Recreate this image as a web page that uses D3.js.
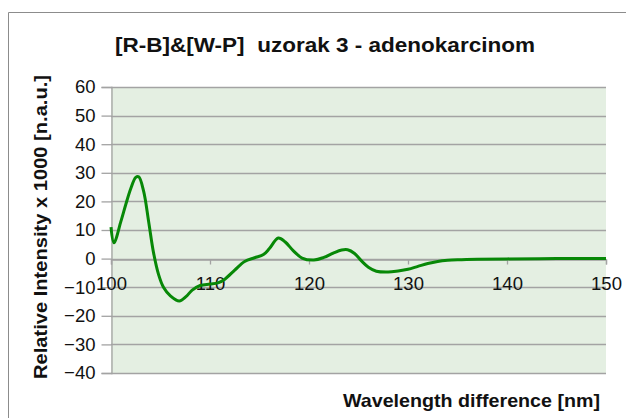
<!DOCTYPE html>
<html>
<head>
<meta charset="utf-8">
<script src="https://cdn.jsdelivr.net/npm/d3@7"></script>
<style>
  html, body { margin: 0; padding: 0; background: #ffffff; }
  svg { display: block; font-family: "Liberation Sans", Arial, sans-serif; }
</style>
</head>
<body>
<svg id="chart" width="626" height="418"></svg>
<script>
// Wavelength difference (nm) and relative intensity (x1000, n.a.u.)
const wavelength = [100, 100.3, 101, 101.5, 102, 102.5, 102.8, 103.3, 103.8, 104.3, 104.8, 105.3, 106,
  106.9, 107.6, 108.2, 109, 110, 110.8, 111.5, 112.5, 113.5, 114.5, 115.4, 116, 116.9, 117.6, 118.4,
  119.3, 120.5, 121.5, 122.5, 123.3, 123.9, 124.6, 125.3, 126, 126.8, 128, 129, 130, 131, 132, 133,
  134, 135, 137, 140, 145, 150];
const intensity = [11, 5.5, 13, 19, 24.5, 28.4, 28.6, 23.5, 13, 2, -5.5, -10, -13,
  -14.8, -13.2, -11, -9.4, -8.9, -8.5, -7.2, -4, -1, 0.3, 1.4, 3.5, 7.2, 5.8, 2.8,
  0.2, -0.5, 0.4, 2, 3, 3.1, 1.8, -0.8, -3, -4.4, -4.7, -4.3, -3.7, -2.7, -1.7, -1,
  -0.6, -0.4, -0.2, -0.1, 0, 0];
const xTicks = [100, 110, 120, 130, 140, 150];
const yTicks = [-40, -30, -20, -10, 0, 10, 20, 30, 40, 50, 60];

const titleText = "[R-B]&[W-P]  uzorak 3 - adenokarcinom";
const xTitle = "Wavelength difference [nm]";
const yTitle = "Relative Intensity x 1000 [n.a.u.]";

const svg = d3.select("#chart");
const plot = { left: 111, right: 606, top: 87, bottom: 373 };

const x = d3.scaleLinear().domain([100, 150]).range([plot.left, plot.right]);
const y = d3.scaleLinear().domain([-40, 60]).range([plot.bottom, plot.top]);

// outer chart frame
svg.append("path")
  .attr("d", "M8.5,430 V12.5 H640")
  .attr("fill", "none")
  .attr("stroke", "#8c8c8c")
  .attr("stroke-width", 1);

// plot background
svg.append("rect")
  .attr("x", plot.left).attr("y", plot.top)
  .attr("width", plot.right - plot.left).attr("height", plot.bottom - plot.top)
  .attr("fill", "#e4efe2");

// horizontal gridlines
svg.append("g")
  .selectAll("line")
  .data(yTicks)
  .join("line")
  .attr("x1", plot.left).attr("x2", plot.right)
  .attr("y1", d => Math.round(y(d)) + 0.5).attr("y2", d => Math.round(y(d)) + 0.5)
  .attr("stroke", "#a3a3a3")
  .attr("stroke-width", 1.3);

// y axis
const yAxis = svg.append("g")
  .attr("transform", `translate(${plot.left + 0.5},0)`)
  .call(d3.axisLeft(y).tickValues(yTicks).tickSize(10).tickPadding(6).tickFormat(d3.format("d")));
yAxis.select(".domain").attr("stroke", "#a3a3a3").attr("stroke-width", 1.3);
yAxis.selectAll(".tick line").attr("stroke", "#a3a3a3").attr("stroke-width", 1.3);
yAxis.selectAll("text")
  .attr("font-size", 18.5).attr("fill", "#111")
  .attr("font-family", "Liberation Sans, Arial, sans-serif");

// x axis sits on the zero line
const xAxis = svg.append("g")
  .attr("transform", `translate(0,${Math.round(y(0)) + 0.5})`)
  .call(d3.axisBottom(x).tickValues(xTicks).tickSize(5).tickPadding(12).tickFormat(d3.format("d")));
xAxis.select(".domain").attr("stroke", "#a3a3a3").attr("stroke-width", 1.3);
xAxis.selectAll(".tick line").attr("stroke", "#a3a3a3").attr("stroke-width", 1.3);
xAxis.selectAll("text")
  .attr("font-size", 18.5).attr("fill", "#111")
  .attr("font-family", "Liberation Sans, Arial, sans-serif");

// spectrum line
const points = wavelength.map((w, i) => [w, intensity[i]]);
svg.append("path")
  .datum(points)
  .attr("fill", "none")
  .attr("stroke", "#078807")
  .attr("stroke-width", 3)
  .attr("stroke-linejoin", "round")
  .attr("d", d3.line().x(d => x(d[0])).y(d => y(d[1])).curve(d3.curveCatmullRom.alpha(0.5)));

// titles
svg.append("text")
  .attr("x", 115).attr("y", 52)
  .attr("textLength", 420).attr("lengthAdjust", "spacingAndGlyphs")
  .attr("font-size", 20.5).attr("font-weight", "bold").attr("fill", "#111")
  .style("white-space", "pre")
  .text(titleText);

svg.append("text")
  .attr("x", 343).attr("y", 406.5)
  .attr("textLength", 257).attr("lengthAdjust", "spacingAndGlyphs")
  .attr("font-size", 18.5).attr("font-weight", "bold").attr("fill", "#111")
  .text(xTitle);

svg.append("text")
  .attr("transform", `translate(47,379) rotate(-90)`)
  .attr("textLength", 304).attr("lengthAdjust", "spacingAndGlyphs")
  .attr("font-size", 18).attr("font-weight", "bold").attr("fill", "#111")
  .text(yTitle);
</script>
</body>
</html>
